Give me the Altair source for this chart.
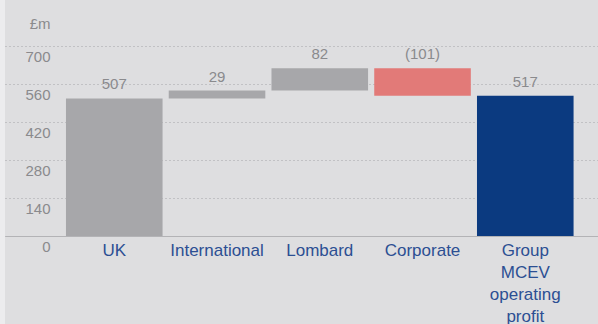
import altair as alt
import pandas as pd

categories = ["UK", "International", "Lombard", "Corporate", "Group MCEV operating profit"]
values = [507, 29, 82, -101, 517]
value_labels = ["507", "29", "82", "(101)", "517"]
is_total = [True, False, False, False, True]
bar_colors = ["#a7a7aa", "#a7a7aa", "#a7a7aa", "#e27a78", "#0b3a80"]
y_ticks = [0, 140, 280, 420, 560, 700]

# waterfall start/end
starts, ends = [], []
running = 0
for v, tot in zip(values, is_total):
    if tot:
        starts.append(0)
        ends.append(v)
        running = v
    else:
        starts.append(running)
        running += v
        ends.append(running)

df = pd.DataFrame({
    "cat": categories,
    "start": starts,
    "end": ends,
    "top": [max(s, e) for s, e in zip(starts, ends)],
    "label": value_labels,
})

FONT = "Liberation Sans"
GREY_TXT = "#8a8a8d"

x = alt.X("cat:N", sort=categories,
          scale=alt.Scale(paddingInner=0.06, paddingOuter=0.4156, align=0.714),
          axis=alt.Axis(title=None, labelAngle=0, ticks=False, domain=True,
                        domainColor="#b3b3b6", domainWidth=1.2,
                        labelColor="#2c4f93", labelFontSize=17, labelFont=FONT,
                        labelPadding=6, labelLineHeight=22,
                        labelExpr="split(datum.label, ' ')"))

y_scale = alt.Scale(domain=[0, 870], nice=False, zero=True)

bars = alt.Chart(df).mark_bar().encode(
    x=x,
    y=alt.Y("start:Q", scale=y_scale,
            axis=alt.Axis(values=y_ticks, title="£m", titleAngle=0, titleAlign="right",
                          titleBaseline="middle", titleX=45, titleY=23,
                          titleColor=GREY_TXT, titleFont=FONT, titleFontSize=15,
                          titleFontWeight="normal",
                          labelAlign="right", labelPadding=-45, labelOffset=10,
                          labelBaseline="middle",
                          ticks=False, tickSize=0, domain=False,
                          labelColor=GREY_TXT, labelFontSize=15, labelFont=FONT,
                          grid=True, gridDash=[1, 3], gridColor="#a5a5a9",
                          gridWidth=1)),
    y2="end:Q",
    color=alt.Color("cat:N", scale=alt.Scale(domain=categories, range=bar_colors),
                    legend=None),
)

texts = alt.Chart(df).mark_text(baseline="bottom", dy=-6, fontSize=15, font=FONT,
                                color=GREY_TXT).encode(
    x=alt.X("cat:N", sort=categories),
    y=alt.Y("top:Q", scale=y_scale),
    text="label:N",
)

strip = alt.Chart(df).mark_rect(color="#ececee").encode(
    x=alt.value(-5), x2=alt.value(0), y=alt.value(0), y2=alt.value(330)
)

chart = alt.layer(strip, bars, texts).properties(
    width=593, height=236,
    autosize=alt.AutoSizeParams(type="none"),
    padding={"left": 5, "top": 0, "right": 0, "bottom": 88},
    background="#dedee0",
).configure_view(stroke=None)

chart.save("out.html", embed_options={"renderer": "svg", "actions": False})
